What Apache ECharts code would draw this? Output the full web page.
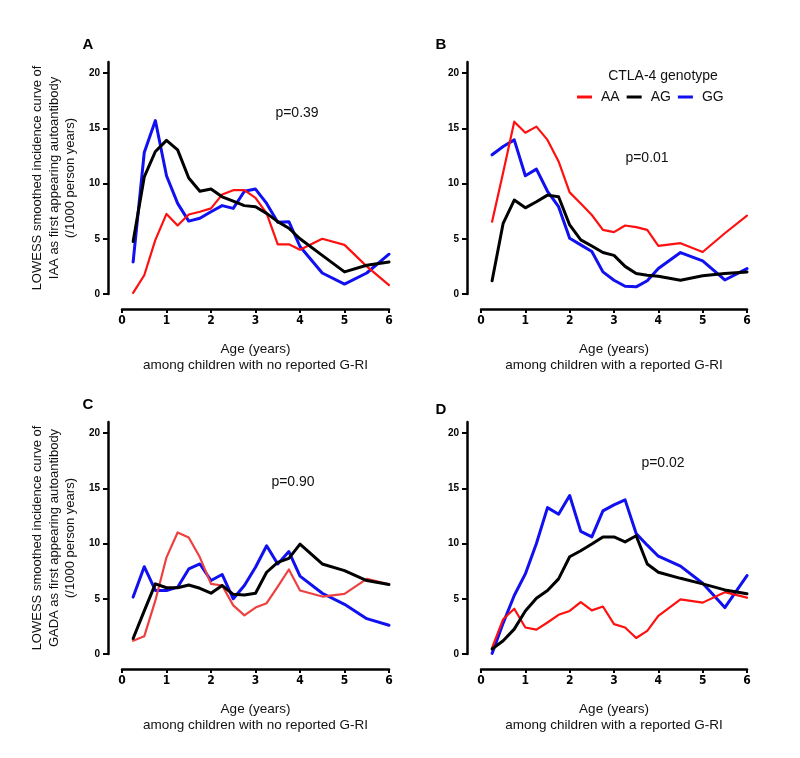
<!DOCTYPE html>
<html>
<head>
<meta charset="utf-8">
<script src="https://cdn.jsdelivr.net/npm/echarts@6/dist/echarts.min.js"></script>
<style>html,body{margin:0;padding:0;background:#fff;}#c{width:800px;height:758px;}</style>
</head>
<body>
<div id="c"></div>
<script>
// ---- data ----
const AGES = [0.25,0.5,0.75,1,1.25,1.5,1.75,2,2.25,2.5,2.75,3,3.25,3.5,3.75,4,4.5,5,5.5,6];
const X_TICKS = [0,1,2,3,4,5,6];
const Y_TICKS = [0,5,10,15,20];
const GENOTYPES = ['AA','AG','GG'];

// Panel A: IAA, no reported G-RI
const A_AA = [0.1,1.7,4.9,7.25,6.2,7.2,7.45,7.75,9.0,9.4,9.4,8.7,7.3,4.5,4.5,4.0,5.0,4.45,2.5,0.8];
const A_AG = [4.75,10.6,12.9,13.9,13.05,10.5,9.3,9.5,8.8,8.4,8.0,7.9,7.3,6.55,5.95,5.0,3.5,2.0,2.6,2.9];
const A_GG = [2.9,12.8,15.7,10.7,8.2,6.6,6.85,7.45,8.0,7.75,9.3,9.5,8.2,6.5,6.55,4.3,1.9,0.9,1.9,3.6];
// Panel B: IAA, reported G-RI
const B_AA = [6.55,11.0,15.6,14.6,15.15,13.95,12.0,9.2,8.2,7.15,5.8,5.6,6.2,6.05,5.8,4.35,4.6,3.8,5.5,7.1];
const B_AG = [1.2,6.4,8.5,7.8,8.35,8.95,8.8,6.25,4.9,4.35,3.75,3.5,2.5,1.85,1.7,1.6,1.25,1.65,1.85,2.0];
const B_GG = [12.6,13.35,13.95,10.7,11.3,9.3,7.9,5.05,4.45,3.85,2.0,1.25,0.7,0.65,1.2,2.3,3.75,3.0,1.27,2.3];
// Panel C: GADA, no reported G-RI
const C_AA = [1.2,1.6,4.85,8.75,11.0,10.55,8.75,6.35,6.2,4.4,3.5,4.2,4.6,6.1,7.65,5.75,5.2,5.45,6.8,6.3];
const C_AG = [1.4,3.9,6.35,6.0,6.0,6.25,5.95,5.5,6.2,5.4,5.35,5.5,7.4,8.3,8.65,9.95,8.15,7.55,6.65,6.3];
const C_GG = [5.15,7.9,5.75,5.75,6.05,7.7,8.15,6.65,7.2,5.0,6.2,7.85,9.8,8.15,9.27,7.05,5.5,4.5,3.2,2.6];
// Panel D: GADA, reported G-RI
const D_AA = [0.55,3.15,4.1,2.4,2.2,2.85,3.55,3.9,4.7,3.95,4.3,2.7,2.4,1.45,2.1,3.45,4.95,4.65,5.6,5.1];
const D_AG = [0.45,1.2,2.25,3.9,5.05,5.75,6.8,8.8,9.35,9.95,10.6,10.6,10.15,10.7,8.15,7.4,6.85,6.35,5.8,5.45];
const D_GG = [0.05,2.8,5.3,7.25,10.0,13.25,12.65,14.35,11.1,10.6,12.95,13.5,13.95,10.9,9.85,8.85,7.95,6.4,4.2,7.1];

const P_VALUES = ['p=0.39','p=0.01','p=0.90','p=0.02'];
const PANEL_LETTERS = ['A','B','C','D'];
const X_NAMES = ['Age (years)\namong children with no reported G-RI','Age (years)\namong children with a reported G-RI',
                 'Age (years)\namong children with no reported G-RI','Age (years)\namong children with a reported G-RI'];
const Y_NAMES = ['LOWESS smoothed incidence curve of\nIAA as first appearing autoantibody\n(/1000 person years)', '',
                 'LOWESS smoothed incidence curve of\nGADA as first appearing autoantibody\n(/1000 person years)', ''];
const PANELS = [[A_AA,A_AG,A_GG],[B_AA,B_AG,B_GG],[C_AA,C_AG,C_GG],[D_AA,D_AG,D_GG]];

// ---- layout / style ----
const FONT = "'Liberation Sans', Arial, sans-serif";
const NARROW = "'Liberation Sans Narrow', 'DejaVu Sans Condensed', 'Liberation Sans', sans-serif";
const GRIDS = [
  {left:122, top:62, width:267, height:232},
  {left:481, top:62, width:266, height:232},
  {left:122, top:422, width:267, height:232},
  {left:481, top:422, width:266, height:232}
];
const COLORS = [['#ff1010','#000000','#1010f0'],['#ff1010','#000000','#1010f0'],['#ee4040','#000000','#1010f0'],['#ff1010','#000000','#1010f0']];
const WIDTHS = [2.2,3,3];

const xAxis = [], yAxis = [], series = [];
GRIDS.forEach((g,i)=>{
  xAxis.push({
    type:'value', gridIndex:i, min:0, max:6, interval:1, offset:15,
    axisLine:{show:true, onZero:false, lineStyle:{color:'#000', width:2.5}},
    axisTick:{show:true, length:4, lineStyle:{color:'#000', width:2}},
    axisLabel:{show:true, margin:6, fontSize:12, fontWeight:'bold', fontFamily:NARROW, color:'#000', customValues:X_TICKS},
    splitLine:{show:false},
    name:X_NAMES[i], nameLocation:'middle', nameGap:32,
    nameTextStyle:{fontSize:13.5, fontFamily:FONT, color:'#111', lineHeight:16}
  });
  yAxis.push({
    type:'value', gridIndex:i, min:0, max:21, interval:5, offset:14,
    axisLine:{show:true, onZero:false, lineStyle:{color:'#000', width:2.5}},
    axisTick:{show:true, length:5, lineStyle:{color:'#000', width:2}, customValues:Y_TICKS},
    axisLabel:{show:true, margin:8, fontSize:10, fontWeight:'bold', fontFamily:FONT, color:'#000', customValues:Y_TICKS,
      formatter:(v)=> (v % 5 === 0 ? String(v) : '')},
    splitLine:{show:false},
    name:Y_NAMES[i], nameLocation:'middle', nameRotate:90, nameGap:29,
    nameTextStyle:{fontSize:13, fontFamily:FONT, color:'#111', lineHeight:16.5, align:'center'}
  });
  PANELS[i].forEach((vals,k)=>{
    series.push({
      type:'line', name:GENOTYPES[k], xAxisIndex:i, yAxisIndex:i,
      data: AGES.map((a,j)=>[a, vals[j]]),
      showSymbol:false, symbol:'none', smooth:false,
      color:COLORS[i][k],
      lineStyle:{color:COLORS[i][k], width:WIDTHS[k], join:'round', cap:'round'},
      z: k===0 ? 3 : (k===1 ? 4 : 2),
      silent:true, animation:false
    });
  });
});

const PPOS = [[297,113],[647,158],[293,482],[663,463]];
const LPOS = [[88,45],[441,45],[88,405],[441,410]];
const graphic = [];
P_VALUES.forEach((t,i)=>graphic.push({type:'text', x:PPOS[i][0], y:PPOS[i][1],
  style:{text:t, font:'14px '+FONT, fill:'#111', align:'center', verticalAlign:'middle'}}));
PANEL_LETTERS.forEach((t,i)=>graphic.push({type:'text', x:LPOS[i][0], y:LPOS[i][1],
  style:{text:t, font:'bold 15px '+FONT, fill:'#000', align:'center', verticalAlign:'middle'}}));
graphic.push({type:'text', x:663, y:76, style:{text:'CTLA-4 genotype', font:'14px '+FONT, fill:'#111', align:'center', verticalAlign:'middle'}});

const chart = echarts.init(document.getElementById('c'), null, {renderer:'canvas'});
chart.setOption({
  backgroundColor:'#fff',
  animation:false,
  grid: GRIDS.map(g=>Object.assign({containLabel:false}, g)),
  xAxis, yAxis, series, graphic,
  legend:{
    data:GENOTYPES, left:577, top:90, orient:'horizontal', padding:0,
    itemWidth:15, itemHeight:3, itemGap:7, icon:'rect', selectedMode:false,
    textStyle:{fontSize:14, fontFamily:FONT, color:'#111', padding:[0,0,0,4]}
  }
});
</script>
</body>
</html>
